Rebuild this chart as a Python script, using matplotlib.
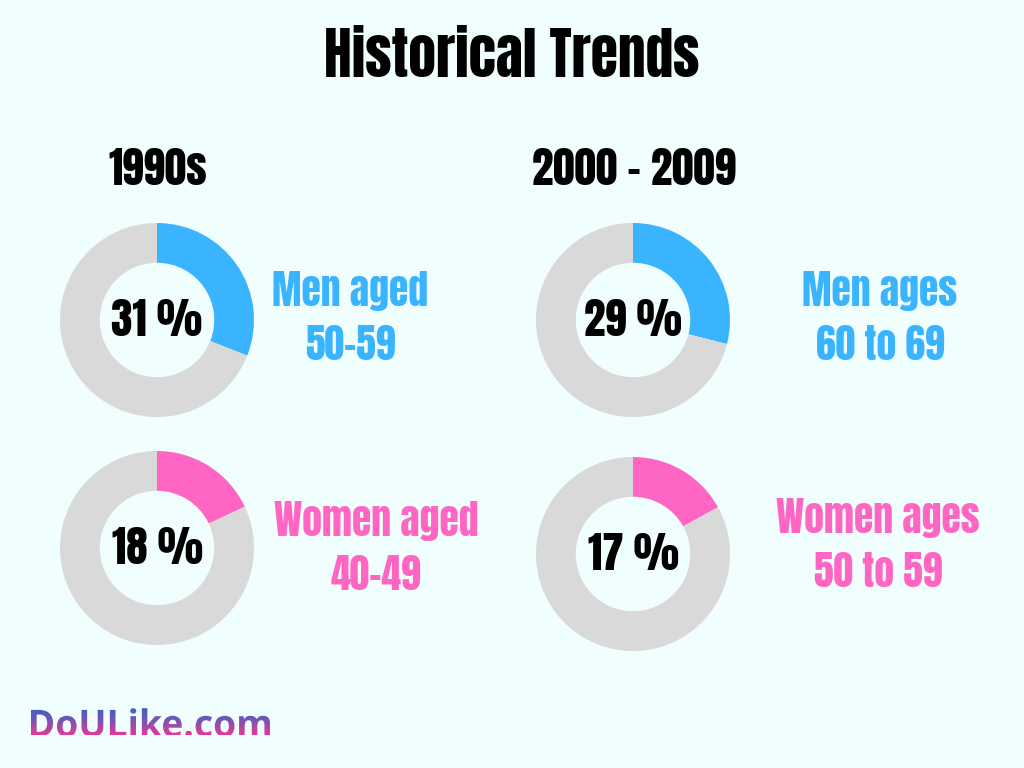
import numpy as np
import matplotlib
matplotlib.use('Agg')
import matplotlib.pyplot as plt
from matplotlib.textpath import TextPath
from matplotlib.patches import PathPatch
from matplotlib.font_manager import FontProperties
from matplotlib.transforms import Affine2D

# data
periods = ['1990s', '2000 - 2009']
men_pct = [31, 29]
women_pct = [18, 17]
men_labels = ['Men aged\n50-59', 'Men ages\n60 to 69']
women_labels = ['Women aged\n40-49', 'Women ages\n50 to 59']

bg = '#F0FEFE'
blue = '#3BB4FF'
pink = '#FF66C4'
grey = '#D9D9D9'
W, H = 1024, 768
font = ['Anton', 'DejaVu Sans']

fig = plt.figure(figsize=(W / 100, H / 100), dpi=100, facecolor=bg)
ax = fig.add_axes([0, 0, 1, 1])
ax.set_xlim(0, W)
ax.set_ylim(H, 0)
ax.axis('off')

ax.text(512, 56, 'Historical Trends', ha='center', va='center', fontsize=40,
        family=font)

col_x = [157, 633]
row_y = [[320, 548], [320, 554]]
label_pos = [[(350, 318), (376, 548)], [(880, 318), (878, 545)]]
radius = 97

for i, period in enumerate(periods):
    ax.text(col_x[i] + 1, 169, period, ha='center', va='center', fontsize=31,
            family=font)
    for j, (pct, lab, col) in enumerate([(men_pct[i], men_labels[i], blue),
                                         (women_pct[i], women_labels[i], pink)]):
        cx, cy = col_x[i], row_y[i][j]
        dax = fig.add_axes([(cx - radius) / W, 1 - (cy + radius) / H,
                            2 * radius / W, 2 * radius / H])
        dax.pie([pct, 100 - pct], colors=[col, grey], startangle=90,
                counterclock=False, radius=1,
                wedgeprops=dict(width=0.41, linewidth=0))
        dax.set_xlim(-1, 1)
        dax.set_ylim(-1, 1)
        dax.axis('off')
        dax.text(0, 0, f'{pct} %', ha='center', va='center', fontsize=31,
                 family=font)
        lx, ly = label_pos[i][j]
        ax.text(lx, ly, lab, ha='center', va='center', fontsize=28.5,
                family=font, color=col, linespacing=1.42)

# logo with vertical gradient
fp = FontProperties(family=['Open Sans', 'DejaVu Sans'], weight='bold')
tp = TextPath((0, 0), 'DoULike.com', size=40, prop=fp)
ext = tp.get_extents()
scale = 239 / ext.width
trans = Affine2D().translate(-ext.x0, -ext.y0).scale(scale, -scale).translate(31, 737)
patch = PathPatch(tp, transform=trans + ax.transData, facecolor='none', edgecolor='none')
ax.add_patch(patch)
grad = np.linspace(0, 1, 100).reshape(-1, 1)
cmap = matplotlib.colors.LinearSegmentedColormap.from_list('g', ['#3560C8', '#7A55B0', '#E5389A'])
im = ax.imshow(grad, cmap=cmap, extent=[28, 275, 735, 706], aspect='auto', zorder=3)
im.set_clip_path(patch)
ax.set_xlim(0, W)
ax.set_ylim(H, 0)

fig.savefig('out.png', dpi=100, facecolor=bg)
